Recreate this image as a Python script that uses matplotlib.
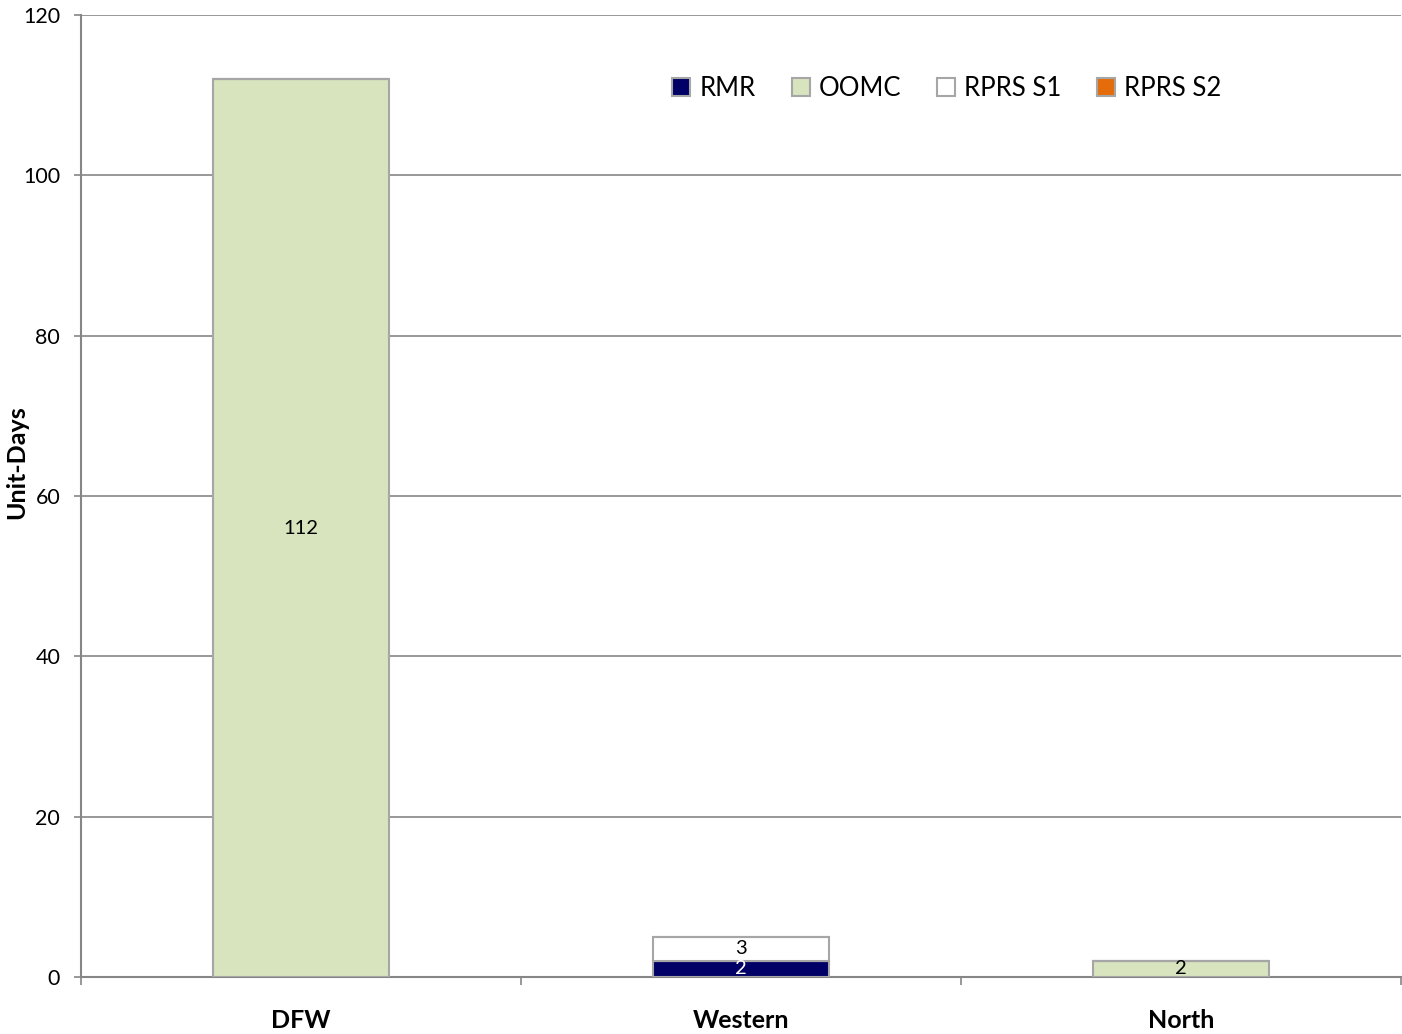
import matplotlib.pyplot as plt
import numpy as np

# chart data
regions = ['DFW', 'Western', 'North']
rmr = [0, 2, 0]
oomc = [112, 0, 2]
rprs_s1 = [0, 3, 0]
rprs_s2 = [0, 0, 0]

series = [('RMR', rmr, '#000066', 'white'),
          ('OOMC', oomc, '#D7E4BD', 'black'),
          ('RPRS S1', rprs_s1, '#FFFFFF', 'black'),
          ('RPRS S2', rprs_s2, '#E46C0A', 'black')]

plt.rcParams['font.family'] = ['Lato', 'DejaVu Sans']

fig = plt.figure(figsize=(14.02, 10.34), dpi=100)
ax = fig.add_axes([81/1402, 57/1034, 1320/1402, 962/1034])

x = np.arange(len(regions))
bottom = np.zeros(len(regions))
for name, vals, col, tcol in series:
    vals = np.array(vals, dtype=float)
    ax.bar(x, vals, width=0.4, bottom=bottom, color=col, edgecolor='#A6A6A6',
           linewidth=1.5, label=name, zorder=3)
    for xi, v, b in zip(x, vals, bottom):
        if v > 0:
            ax.text(xi, b + v / 2, '%d' % v, ha='center', va='center',
                    fontsize=14.5, color=tcol, zorder=4)
    bottom += vals

ax.set_xlim(-0.5, 2.5)
ax.set_ylim(0, 120)
ax.set_yticks(np.arange(0, 121, 20))
ax.yaxis.grid(True, color='#868686', linewidth=1.2, zorder=0)
ax.set_axisbelow(True)

ax.set_xticks(x)
ax.set_xticklabels(regions, fontsize=18, fontweight='bold')
ax.tick_params(axis='x', which='major', length=0, pad=23)
ax.set_xticks([-0.5, 0.5, 1.5, 2.5], minor=True)
ax.tick_params(axis='x', which='minor', length=6, width=1.2, color='#868686')
ax.tick_params(axis='y', length=5, width=1.2, color='#868686', labelsize=15.5, pad=10)

for s in ['top', 'right']:
    ax.spines[s].set_visible(False)
for s in ['left', 'bottom']:
    ax.spines[s].set_color('#868686')
    ax.spines[s].set_linewidth(1.5)

ax.set_ylabel('Unit-Days', fontsize=18, fontweight='bold', va='center')
ax.yaxis.set_label_coords(-0.0485, 0.535)

fig.legend(loc='center', bbox_to_anchor=(947/1402, 1 - 88/1034), ncol=4,
           frameon=False, fontsize=18.5, handlelength=0.7, handleheight=0.7,
           handletextpad=0.35, columnspacing=1.4)

fig.savefig('out.png', dpi=100)
